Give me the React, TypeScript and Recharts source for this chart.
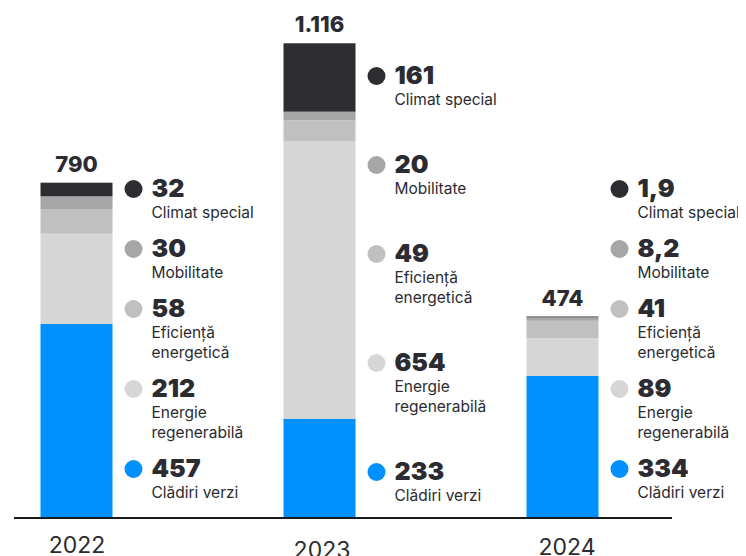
import React from 'react';
import { BarChart, Bar, XAxis, YAxis } from 'recharts';

// ---- data ----
const years = ['2022', '2023', '2024'];
const cladiriVerzi = [457, 233, 334];
const energieRegenerabila = [212, 654, 89];
const eficientaEnergetica = [58, 49, 41];
const mobilitate = [30, 20, 8.2];
const climatSpecial = [32, 161, 1.9];
const totals = [790, 1116, 474];

const seriesKeys = ['cladiri', 'energie', 'eficienta', 'mobilitate', 'climat'];
const seriesNames: Record<string, string[]> = {
  cladiri: ['Clădiri verzi'],
  energie: ['Energie', 'regenerabilă'],
  eficienta: ['Eficiență', 'energetică'],
  mobilitate: ['Mobilitate'],
  climat: ['Climat special'],
};
const seriesColors: Record<string, string> = {
  cladiri: '#0091ff',
  energie: '#d6d6d6',
  eficienta: '#c0c0c0',
  mobilitate: '#a6a6a6',
  climat: '#2d2d32',
};

const data = years.map((year, i) => ({
  year,
  cladiri: cladiriVerzi[i],
  energie: energieRegenerabila[i],
  eficienta: eficientaEnergetica[i],
  mobilitate: mobilitate[i],
  climat: climatSpecial[i],
  total: totals[i],
}));

// ---- layout / style ----
const TEXT = '#2b2b31';
const FONT = 'Inter, "Noto Sans", sans-serif';
const LABEL_TOP = [181, 68, 181];
const LABEL_EXTRA = [0, 29, 0];
const TICK_DX = [1, 3, 5];
const TICK_DY = [0, 5, 2];

const fmtValue = (v: number) => String(v).replace('.', ',');
const fmtTotal = (v: number) => String(v).replace(/\B(?=(\d{3})+(?!\d))/g, '.');

const labelOrder = ['climat', 'mobilitate', 'eficienta', 'energie', 'cladiri'];

function TopShape(props: any) {
  const { x, y, width, height, fill, index, payload } = props;
  const row = payload || data[index];
  const i = years.indexOf(row.year);
  const dotX = x + width + 21;
  const numX = dotX + 18;
  let cy = LABEL_TOP[i];
  const items = labelOrder.map((key) => {
    const lines = seriesNames[key];
    const myY = cy;
    cy += (lines.length === 1 ? 60 : 80) + LABEL_EXTRA[i];
    return (
      <g key={key}>
        <circle cx={dotX} cy={myY} r={9} fill={seriesColors[key]} />
        <text x={numX} y={myY + 8} fontSize={25} fontWeight={900} fill={TEXT} fontFamily={FONT}>
          {fmtValue(row[key])}
        </text>
        {lines.map((ln, k) => (
          <text key={k} x={numX} y={myY + 29 + k * 20} fontSize={15.5} fill={TEXT} fontFamily={FONT}>
            {ln}
          </text>
        ))}
      </g>
    );
  });
  return (
    <g>
      <rect x={x} y={y} width={width} height={Math.max(height, 0)} fill={fill} />
      <text
        x={x + width / 2}
        y={y - 11}
        textAnchor="middle"
        fontSize={22}
        fontWeight={800}
        fill={TEXT}
        fontFamily={FONT}
      >
        {fmtTotal(row.total)}
      </text>
      {items}
    </g>
  );
}

function YearTick(props: any) {
  const { x, y, payload, index } = props;
  return (
    <text
      x={x + TICK_DX[index]}
      y={y + 27 + TICK_DY[index]}
      textAnchor="middle"
      fontSize={23}
      fill={TEXT}
      fontFamily={FONT}
    >
      {payload.value}
    </text>
  );
}

export default function App() {
  return (
    <BarChart
      width={738}
      height={548}
      data={data}
      margin={{ top: 0, right: 74, bottom: 0, left: 6 }}
      barSize={72}
    >
      <XAxis
        dataKey="year"
        height={38}
        padding={{ left: -59.5, right: -11.5 }}
        axisLine={{ stroke: '#1a1a1a', strokeWidth: 2 }}
        tickLine={false}
        tick={<YearTick />}
        interval={0}
      />
      <YAxis hide domain={[0, 1200]} />
      {seriesKeys.map((key) =>
        key === 'climat' ? (
          <Bar key={key} dataKey={key} stackId="a" fill={seriesColors[key]} isAnimationActive={false} shape={<TopShape />} />
        ) : (
          <Bar key={key} dataKey={key} stackId="a" fill={seriesColors[key]} isAnimationActive={false} />
        )
      )}
    </BarChart>
  );
}
